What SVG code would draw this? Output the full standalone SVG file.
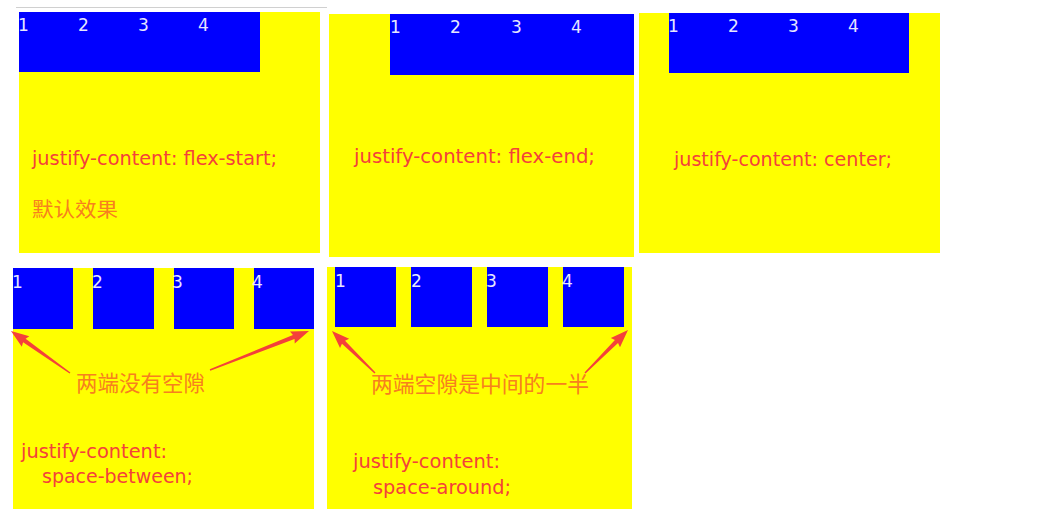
<svg xmlns="http://www.w3.org/2000/svg" width="1043" height="524" viewBox="0 0 1043 524">
<style>
.box{fill:#ffff00}
.item{fill:#0000ff}
.num{font-family:"DejaVu Sans",sans-serif;font-size:17px;fill:#e6e6ff}
.code{font-family:"DejaVu Sans",sans-serif;font-size:19px;fill:#f4413a}
.cn{font-family:"Noto Sans CJK SC","Noto Sans CJK TC",sans-serif;fill:#f7801e}
.arr{fill:#f4413a}
</style>
<rect x="0" y="0" width="1043" height="524" fill="#ffffff"/>
<line x1="16" y1="7.5" x2="327" y2="7.5" stroke="#d0d0d0" stroke-width="1"/>

<g id="panel-flex-start">
<rect class="box" x="19" y="12" width="301" height="241"/>
<rect class="item" x="19" y="12" width="241" height="60"/>
<text class="num" x="18" y="31">1</text>
<text class="num" x="78" y="31">2</text>
<text class="num" x="138" y="31">3</text>
<text class="num" x="198" y="31">4</text>
<text class="code" x="32" y="165" textLength="245" lengthAdjust="spacingAndGlyphs">justify-content: flex-start;</text>
<text class="cn" x="32" y="217" font-size="20" textLength="86" lengthAdjust="spacingAndGlyphs">默认效果</text>
</g>

<g id="panel-flex-end">
<rect class="box" x="329" y="14" width="305" height="243"/>
<rect class="item" x="390" y="14" width="244" height="61"/>
<text class="num" x="390" y="33">1</text>
<text class="num" x="450" y="33">2</text>
<text class="num" x="511" y="33">3</text>
<text class="num" x="571" y="33">4</text>
<text class="code" x="354" y="163" textLength="241" lengthAdjust="spacingAndGlyphs">justify-content: flex-end;</text>
</g>

<g id="panel-center">
<rect class="box" x="639" y="13" width="301" height="240"/>
<rect class="item" x="669" y="13" width="240" height="60"/>
<text class="num" x="668" y="32">1</text>
<text class="num" x="728" y="32">2</text>
<text class="num" x="788" y="32">3</text>
<text class="num" x="848" y="32">4</text>
<text class="code" x="674" y="166" textLength="218" lengthAdjust="spacingAndGlyphs">justify-content: center;</text>
</g>

<g id="panel-space-between">
<rect class="box" x="13" y="268" width="301" height="241"/>
<rect class="item" x="13" y="268" width="60" height="61"/>
<rect class="item" x="93" y="268" width="61" height="61"/>
<rect class="item" x="174" y="268" width="60" height="61"/>
<rect class="item" x="254" y="268" width="60" height="61"/>
<text class="num" x="12" y="288">1</text>
<text class="num" x="92" y="288">2</text>
<text class="num" x="172" y="288">3</text>
<text class="num" x="252" y="288">4</text>
<text class="cn" x="76" y="391" font-size="22" textLength="129" lengthAdjust="spacingAndGlyphs">两端没有空隙</text>
<text class="code" x="21" y="458" textLength="146" lengthAdjust="spacingAndGlyphs">justify-content:</text>
<text class="code" x="42" y="483" textLength="151" lengthAdjust="spacingAndGlyphs">space-between;</text>
</g>

<g id="panel-space-around">
<rect class="box" x="327" y="267" width="305" height="242"/>
<rect class="item" x="335" y="267" width="61" height="60"/>
<rect class="item" x="411" y="267" width="61" height="60"/>
<rect class="item" x="487" y="267" width="61" height="60"/>
<rect class="item" x="563" y="267" width="61" height="60"/>
<text class="num" x="335" y="287">1</text>
<text class="num" x="411" y="287">2</text>
<text class="num" x="486" y="287">3</text>
<text class="num" x="562" y="287">4</text>
<text class="cn" x="371" y="392" font-size="22" textLength="218" lengthAdjust="spacingAndGlyphs">两端空隙是中间的一半</text>
<text class="code" x="353" y="468" textLength="147" lengthAdjust="spacingAndGlyphs">justify-content:</text>
<text class="code" x="373" y="494" textLength="138" lengthAdjust="spacingAndGlyphs">space-around;</text>
</g>

<g id="connectors">
<path class="arr" transform="translate(70,373) rotate(215.4)" d="M0,-0.7 L56,-2.2 L54.5,-6.5 L72.4,0 L54.5,6.5 L56,2.2 L0,0.7 Z"/>
<path class="arr" transform="translate(210,370) rotate(-21.5)" d="M0,-0.7 L90,-2.2 L88.5,-6.5 L106.4,0 L88.5,6.5 L90,2.2 L0,0.7 Z"/>
<path class="arr" transform="translate(375,373) rotate(224.3)" d="M0,-0.7 L44,-2.2 L42.5,-6.5 L60.1,0 L42.5,6.5 L44,2.2 L0,0.7 Z"/>
<path class="arr" transform="translate(585,373) rotate(-45)" d="M0,-0.7 L44.5,-2.2 L43,-6.5 L60.8,0 L43,6.5 L44.5,2.2 L0,0.7 Z"/>
</g>
</svg>
